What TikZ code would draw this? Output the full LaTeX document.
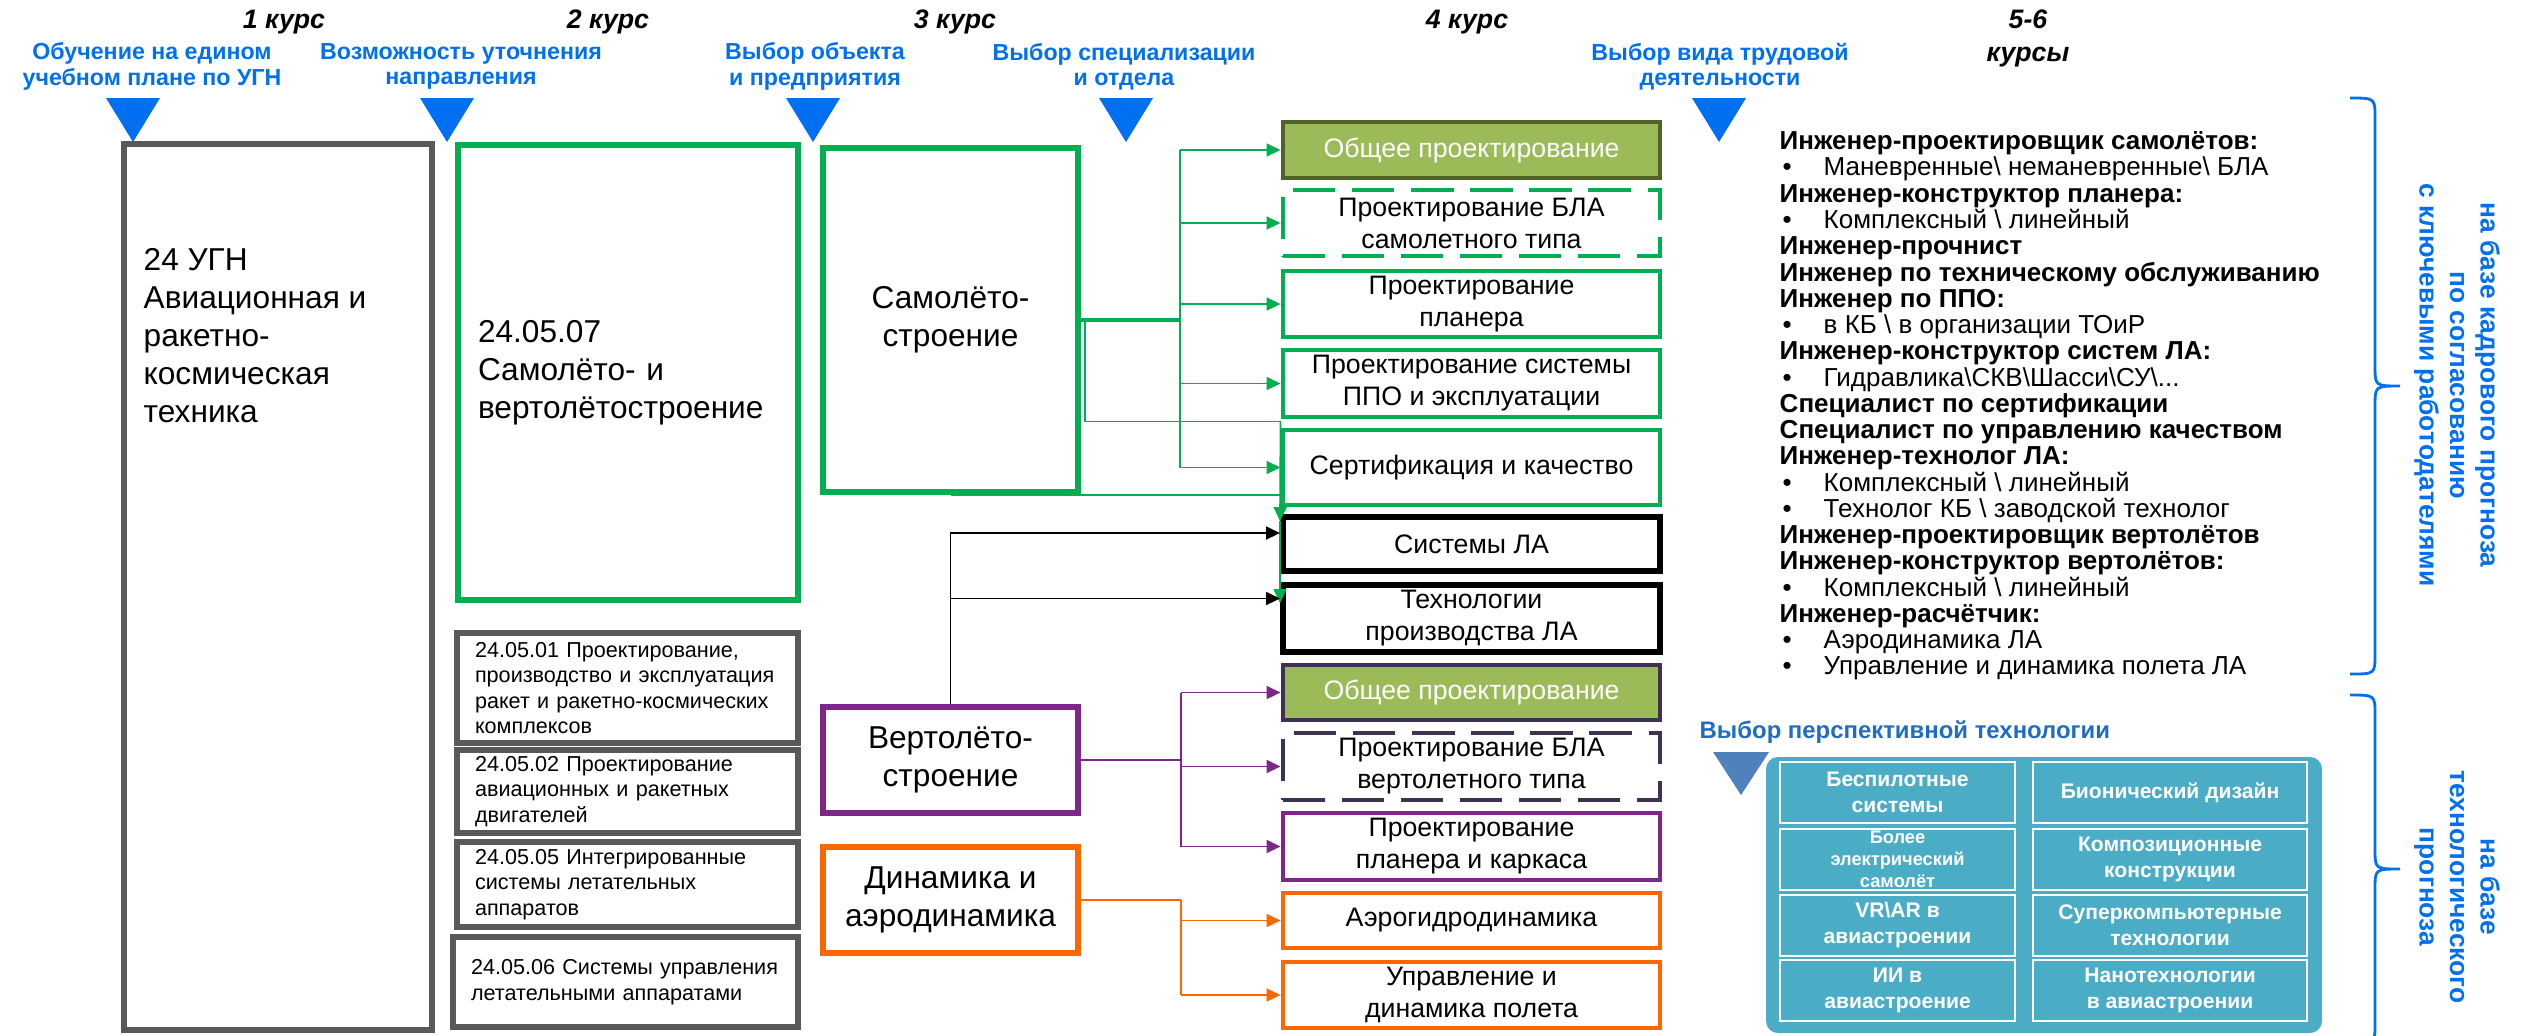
\documentclass[tikz,border=0pt]{standalone}
\usepackage{fontspec}
\setmainfont{Liberation Sans}
\usetikzlibrary{arrows.meta,positioning}

\definecolor{ppgreen}{RGB}{0,176,80}
\definecolor{ppolive}{RGB}{155,187,89}
\definecolor{ppdarkolive}{RGB}{79,98,40}
\definecolor{pppurple}{RGB}{128,38,138}
\definecolor{ppdarkpurple}{RGB}{63,49,81}
\definecolor{pporange}{RGB}{255,102,0}
\definecolor{ppgray}{RGB}{89,89,89}
\definecolor{ppblue}{RGB}{0,112,240}
\definecolor{ppsteel}{RGB}{79,129,189}
\definecolor{ppteal}{RGB}{75,172,198}
\definecolor{pptitle}{RGB}{30,108,196}

\newcommand{\fsz}[2]{\fontsize{#1}{#2}\selectfont}
\newcommand{\bul}[1]{\hspace*{0.03cm}\makebox[0.41cm][l]{\textbullet}#1}
\newcommand{\stagemark}[1]{\fill[ppblue] (#1-0.27,-0.98) -- (#1+0.27,-0.98) -- (#1,-1.42) -- cycle;}

\begin{document}
\begin{tikzpicture}
        \tikzstyle{course}=[font=\fsz{7.6pt}{9.4pt}\bfseries\itshape,align=center,inner sep=0pt]
        \tikzstyle{stage}=[font=\fsz{6.6pt}{7.2pt}\bfseries,text=ppblue,align=center,inner sep=0pt]
        \tikzstyle{bigtext}=[font=\fsz{9pt}{10.8pt}]
        \tikzstyle{graybox}=[draw=ppgray,line width=1.6pt,inner sep=0pt]
        \tikzstyle{greenbox}=[draw=ppgreen,line width=1.6pt,inner sep=0pt]
        \tikzstyle{purplebox}=[draw=pppurple,line width=1.6pt,inner sep=0pt]
        \tikzstyle{orangebox}=[draw=pporange,line width=1.6pt,inner sep=0pt]
        \tikzstyle{dirbox}=[graybox,font=\fsz{6.15pt}{7.25pt},align=left,text width=3.05cm,inner xsep=0.18cm,minimum width=3.41cm]
        \tikzstyle{job}=[minimum width=3.77cm,font=\fsz{7.6pt}{9.1pt},align=center,inner sep=0pt,line width=1.4pt]
        \tikzstyle{gjob}=[job,draw=ppgreen]
        \tikzstyle{gdash}=[gjob,dash pattern=on 12pt off 4.8pt]
        \tikzstyle{bjob}=[job,draw=black,line width=1.7pt]
        \tikzstyle{pjob}=[job,draw=pppurple]
        \tikzstyle{pdash}=[job,draw=ppdarkpurple,dash pattern=on 12pt off 4.8pt]
        \tikzstyle{ojob}=[job,draw=pporange]
        \tikzstyle{olivejob}=[job,fill=ppolive,text=white]
        \tikzstyle{gline}=[ppgreen,line width=0.5pt]
        \tikzstyle{garrow}=[gline,-{Triangle[length=0.14cm,width=0.13cm]}]
        \tikzstyle{barrow}=[black,line width=0.5pt,-{Triangle[length=0.14cm,width=0.13cm]}]
        \tikzstyle{pline}=[pppurple,line width=0.5pt]
        \tikzstyle{parrow}=[pline,-{Triangle[length=0.14cm,width=0.13cm]}]
        \tikzstyle{oline}=[pporange,line width=0.5pt]
        \tikzstyle{oarrow}=[oline,-{Triangle[length=0.14cm,width=0.13cm]}]
        \tikzstyle{roles}=[font=\fsz{7.4pt}{7.47pt},align=left,inner sep=0pt]
        \tikzstyle{forecast}=[font=\fsz{7.5pt}{8.7pt}\bfseries,text=ppblue,align=center,inner sep=0pt]
        \tikzstyle{curly}=[draw=ppblue,line width=0.8pt]
        \tikzstyle{tech}=[draw=white,line width=0.7pt,fill=ppteal,text=white,font=\fsz{6pt}{7.4pt}\bfseries,align=center,minimum height=0.61cm,inner sep=0pt]

        \useasboundingbox (0,0) rectangle (25.27,-10.35);

        % courses
        \node[course] (c1) at (2.84,-0.22) {1 курс};
        \node[course] (c2) at (6.08,-0.22) {2 курс};
        \node[course] (c3) at (9.55,-0.22) {3 курс};
        \node[course] (c4) at (14.67,-0.22) {4 курс};
        \node[course] (c56) at (20.28,-0.38) {5-6\\курсы};

        % stages of choice
        \node[stage] (st1) at (1.52,-0.665) {Обучение на едином\\учебном плане по УГН};
        \node[stage] (st2) at (4.61,-0.665) {Возможность уточнения\\направления};
        \node[stage] (st3) at (8.15,-0.665) {Выбор объекта\\и предприятия};
        \node[stage] (st4) at (11.24,-0.665) {Выбор специализации\\и отдела};
        \node[stage] (st5) at (17.20,-0.665) {Выбор вида трудовой\\деятельности};
        \stagemark{1.33}
        \stagemark{4.47}
        \stagemark{8.13}
        \stagemark{11.26}
        \stagemark{17.19}

        % 1-2 course
        \node[graybox,minimum width=3.08cm,minimum height=8.86cm] (ugn) at (2.78,-5.87) {};
        \node[bigtext,align=left,anchor=north west,inner sep=0pt] (ugntext) at (1.43,-2.48) {24 УГН\\Авиационная и\\ракетно-\\космическая\\техника};
        \node[greenbox,bigtext,align=left,text width=3.0cm,inner xsep=0.2cm,minimum height=4.55cm] (spec) at (6.28,-3.725) {24.05.07\\Самолёто- и\\вертолётостроение};
        \node[dirbox,minimum height=1.10cm] (d01) at (6.275,-6.88) {24.05.01 Проектирование,\\производство и эксплуатация\\ракет и ракетно-космических\\комплексов};
        \node[dirbox,minimum height=0.83cm] (d02) at (6.275,-7.915) {24.05.02 Проектирование\\авиационных и ракетных\\двигателей};
        \node[dirbox,minimum height=0.85cm] (d05) at (6.275,-8.845) {24.05.05 Интегрированные\\системы летательных\\аппаратов};
        \node[dirbox,minimum height=0.90cm,text width=3.09cm] (d06) at (6.255,-9.82) {24.05.06 Системы управления\\летательными аппаратами};

        % 3 course
        \node[greenbox,bigtext,align=center,minimum width=2.55cm,minimum height=3.44cm] (sam) at (9.505,-3.20) {Самолёто-\\строение};
        \node[purplebox,bigtext,align=center,minimum width=2.55cm,minimum height=1.06cm] (vert) at (9.505,-7.60) {Вертолёто-\\строение};
        \node[orangebox,bigtext,align=center,minimum width=2.55cm,minimum height=1.06cm] (dyn) at (9.505,-9.00) {Динамика и\\аэродинамика};

        % 4 course
        \node[olivejob,draw=ppdarkolive,minimum height=0.56cm] (g1) at (14.715,-1.50) {Общее проектирование};
        \node[gdash,minimum height=0.66cm] (g2) at (14.715,-2.23) {Проектирование БЛА\\самолетного типа};
        \node[gjob,minimum height=0.66cm] (g3) at (14.715,-3.04) {Проектирование\\планера};
        \node[gjob,minimum height=0.67cm] (g4) at (14.715,-3.835) {Проектирование системы\\ППО и эксплуатации};
        \node[gjob,minimum height=0.75cm] (g5) at (14.715,-4.675) {Сертификация и качество};
        \node[bjob,minimum height=0.54cm] (s1) at (14.715,-5.44) {Системы ЛА};
        \node[bjob,minimum height=0.67cm] (s2) at (14.715,-6.185) {Технологии\\производства ЛА};
        \node[olivejob,draw=ppdarkpurple,minimum height=0.55cm] (p1) at (14.715,-6.925) {Общее проектирование};
        \node[pdash,minimum height=0.67cm] (p2) at (14.715,-7.665) {Проектирование БЛА\\вертолетного типа};
        \node[pjob,minimum height=0.67cm] (p3) at (14.715,-8.465) {Проектирование\\планера и каркаса};
        \node[ojob,minimum height=0.55cm] (o1) at (14.715,-9.205) {Аэрогидродинамика};
        \node[ojob,minimum height=0.66cm] (o2) at (14.715,-9.95) {Управление и\\динамика полета};

        % green links
        \coordinate (gbus) at (11.80,-3.20);
        \draw[gline,line width=1pt] (sam.east) -- (gbus);
        \draw[gline] (gbus |- g1.west) -- (gbus |- g5.west);
        \draw[garrow] (gbus |- g1.west) -- (g1.west);
        \draw[garrow] (gbus |- g2.west) -- (g2.west);
        \draw[garrow] (gbus |- g3.west) -- (g3.west);
        \draw[garrow] (gbus |- g4.west) -- (g4.west);
        \draw[garrow] (gbus |- g5.west) -- (g5.west);
        \coordinate (gdrop) at ([yshift=0.06cm]g5.north west);
        \coordinate (s1top) at ([yshift=-0.07cm]s1.north west);
        \coordinate (s2top) at ([yshift=-0.21cm]s2.north west);
        \draw[gline] ([xshift=0.04cm]sam.east) |- (gdrop);
        \draw[gline] (sam.south) -- (sam.south -| gdrop);
        \draw[garrow] (gdrop) -- (s1top);
        \draw[garrow] (s1top) -- (s2top);

        % black links
        \coordinate (s1in) at ([yshift=0.11cm]s1.west);
        \coordinate (s2in) at ([yshift=0.2cm]s2.west);
        \draw[barrow] (vert.north) |- (s1in);
        \draw[barrow] (vert.north |- s2in) -- (s2in);

        % purple links
        \coordinate (pbus) at (11.81,-7.60);
        \draw[pline,line width=0.8pt] (vert.east) -- (pbus);
        \draw[pline] (pbus |- p1.west) -- (pbus |- p3.west);
        \draw[parrow] (pbus |- p1.west) -- (p1.west);
        \draw[parrow] (pbus |- p2.west) -- (p2.west);
        \draw[parrow] (pbus |- p3.west) -- (p3.west);

        % orange links
        \coordinate (obus) at (11.81,-9.00);
        \draw[oline,line width=0.8pt] (dyn.east) -- (obus);
        \draw[oline] (obus) -- (obus |- o2.west);
        \draw[oarrow] (obus |- o1.west) -- (o1.west);
        \draw[oarrow] (obus |- o2.west) -- (o2.west);

        % 5-6 course
        \node[roles,anchor=north west] (roles) at (17.79,-1.31) {%
          \textbf{Инженер-проектировщик самолётов:}\\
          \bul{Маневренные\textbackslash{} неманевренные\textbackslash{} БЛА}\\
          \textbf{Инженер-конструктор планера:}\\
          \bul{Комплексный \textbackslash{} линейный}\\
          \textbf{Инженер-прочнист}\\
          \textbf{Инженер по техническому обслуживанию}\\
          \textbf{Инженер по ППО:}\\
          \bul{в КБ \textbackslash{} в организации ТОиР}\\
          \textbf{Инженер-конструктор систем ЛА:}\\
          \bul{Гидравлика\textbackslash СКВ\textbackslash Шасси\textbackslash СУ\textbackslash...}\\
          \textbf{Специалист по сертификации}\\
          \textbf{Специалист по управлению качеством}\\
          \textbf{Инженер-технолог ЛА:}\\
          \bul{Комплексный \textbackslash{} линейный}\\
          \bul{Технолог КБ \textbackslash{} заводской технолог}\\
          \textbf{Инженер-проектировщик вертолётов}\\
          \textbf{Инженер-конструктор вертолётов:}\\
          \bul{Комплексный \textbackslash{} линейный}\\
          \textbf{Инженер-расчётчик:}\\
          \bul{Аэродинамика ЛА}\\
          \bul{Управление и динамика полета ЛА}};

        % braces
        \draw[curly] (23.50,-0.98) .. controls (23.75,-0.98) .. (23.75,-1.18)
          -- (23.75,-3.66) .. controls (23.75,-3.86) .. (24.00,-3.86)
          .. controls (23.75,-3.86) .. (23.75,-4.06)
          -- (23.75,-6.54) .. controls (23.75,-6.74) .. (23.50,-6.74);
        \draw[curly] (23.50,-6.95) .. controls (23.75,-6.95) .. (23.75,-7.15)
          -- (23.75,-8.49) .. controls (23.75,-8.69) .. (24.00,-8.69)
          .. controls (23.75,-8.69) .. (23.75,-8.89)
          -- (23.75,-10.23) .. controls (23.75,-10.43) .. (23.50,-10.43);
        \node[forecast,rotate=-90] (hr) at (24.57,-3.85) {на базе кадрового прогноза\\по согласованию\\с ключевыми работодателями};
        \node[forecast,rotate=-90] (techfc) at (24.57,-8.87) {на базе\\технологического\\прогноза};

        % technologies
        \node[font=\fsz{6.8pt}{8pt}\bfseries,text=pptitle,anchor=west,inner sep=0pt] (techtitle) at (16.99,-7.32) {Выбор перспективной технологии};
        \fill[ppsteel] (17.13,-7.52) -- (17.69,-7.52) -- (17.41,-7.95) -- cycle;
        \node[fill=ppteal,rounded corners=0.12cm,minimum width=5.56cm,minimum height=2.76cm] (panel) at (20.44,-8.95) {};
        \node[tech,minimum width=2.35cm] (t11) at (18.975,-7.925) {Беспилотные\\системы};
        \node[tech,minimum width=2.74cm] (t12) at (21.70,-7.925) {Бионический дизайн};
        \node[tech,minimum width=2.35cm,font=\fsz{5.2pt}{6.3pt}\bfseries] (t21) at (18.975,-8.595) {Более\\электрический\\самолёт};
        \node[tech,minimum width=2.74cm] (t22) at (21.70,-8.595) {Композиционные\\конструкции};
        \node[tech,minimum width=2.35cm] (t31) at (18.975,-9.255) {VR\textbackslash AR в\\авиастроении};
        \node[tech,minimum width=2.74cm] (t32) at (21.70,-9.255) {Суперкомпьютерные\\технологии};
        \node[tech,minimum width=2.35cm] (t41) at (18.975,-9.905) {ИИ в\\авиастроение};
        \node[tech,minimum width=2.74cm] (t42) at (21.70,-9.905) {Нанотехнологии\\в авиастроении};
    \end{tikzpicture}
\end{document}
